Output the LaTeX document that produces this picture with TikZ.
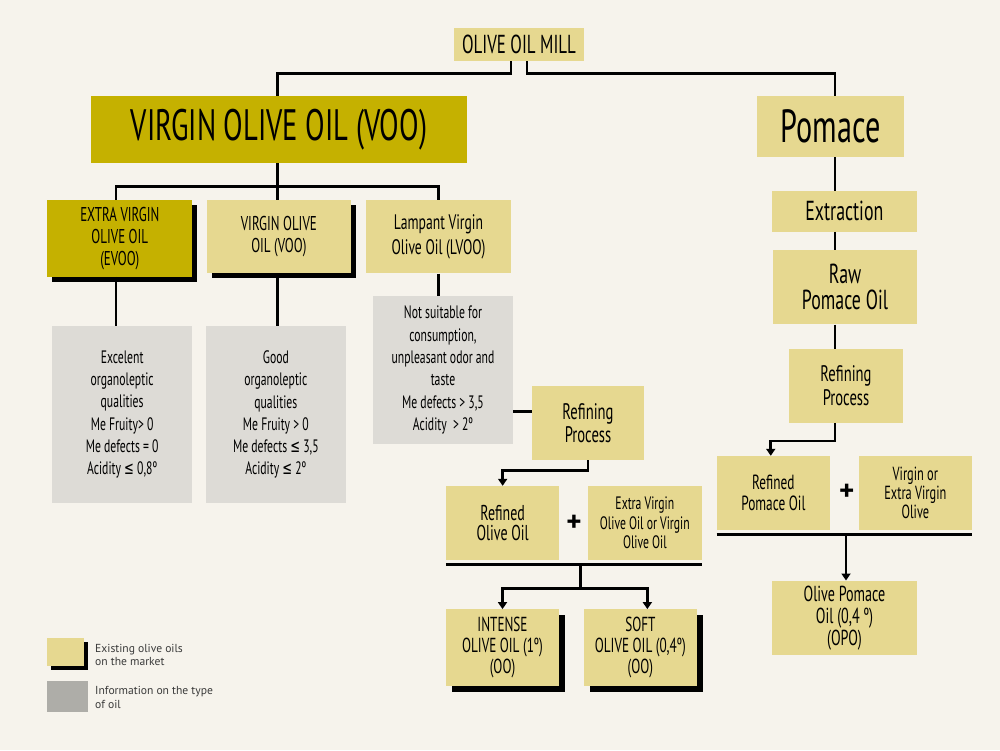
\documentclass[tikz,border=0pt]{standalone}
\usepackage{fontspec}
\setmainfont{PT Sans}[FakeStretch=0.65]
\newfontfamily\legendfont{PT Sans}
\newfontfamily\symf{DejaVu Sans}[FakeStretch=0.65]
\usetikzlibrary{arrows.meta,shadows}
\definecolor{bg}{HTML}{F6F3EC}
\definecolor{khaki}{HTML}{E6D890}
\definecolor{olivey}{HTML}{C5B100}
\definecolor{infogray}{HTML}{DDDBD6}
\definecolor{leggray}{HTML}{AEADA8}
\definecolor{legtext}{HTML}{3A3A3A}
\newcommand{\fs}[2]{\fontsize{#1}{#2}\selectfont}
\newcommand{\leqs}{{\symf ≤}}
\begin{document}
\begin{tikzpicture}[x=1pt,y=-1pt,
  base/.style={inner sep=0pt, align=center, text=black},
  ybox/.style={base, fill=khaki},
  obox/.style={base, fill=olivey},
  gbox/.style={base, fill=infogray},
  shad/.style={drop shadow={shadow xshift=#1, shadow yshift=-#1, fill=black, opacity=1}},
  shad/.default=5pt,
  conn/.style={draw=black, line width=2.6pt},
  arr/.style={conn, -{Triangle[length=7pt,width=9pt]}},
  plussign/.style={inner sep=0pt, font=\legendfont\bfseries\fs{29}{29}},
  legtxt/.style={inner sep=0pt, align=left, anchor=west, text=legtext, font=\legendfont\fs{11.6}{13.3}}]
\fill[bg] (0,0) rectangle (1000,750);
\useasboundingbox (0,0) rectangle (1000,750);

% top
\node[ybox, minimum width=130pt, minimum height=33pt, font=\fs{26}{28}] (mill) at (519,44.5) {OLIVE OIL MILL};
\node[obox, minimum width=376pt, minimum height=66.5pt, font=\fs{44}{46}] (voo) at (279,129.3) {VIRGIN OLIVE OIL (VOO)};
\node[ybox, minimum width=147.6pt, minimum height=61pt, font=\fs{46.5}{48}] (pomace) at (830.5,126.5) {Pomace};

% second row
\node[obox, shad, minimum width=145pt, minimum height=77pt, font=\fs{20}{22}] (evoo) at (119.8,238.2) {EXTRA VIRGIN\\OLIVE OIL\\(EVOO)};
\node[ybox, shad, minimum width=144.3pt, minimum height=73.6pt, font=\fs{20}{22}] (voosm) at (278.85,236.5) {VIRGIN OLIVE\\OIL (VOO)};
\node[ybox, minimum width=145pt, minimum height=73.6pt, font=\fs{21}{25}] (lvoo) at (438.5,236.5) {Lampant Virgin\\Olive Oil (LVOO)};

% info boxes
\node[gbox, minimum width=139.7pt, minimum height=177.3pt, font=\fs{18}{22.3}] (g1) at (122.15,414.65) {Excelent\\organoleptic\\qualities\\Me Fruity> 0\\Me defects = 0\\Acidity \leqs{} 0,8º};
\node[gbox, minimum width=139.7pt, minimum height=177.3pt, font=\fs{18}{22.3}] (g2) at (275.85,414.65) {Good\\organoleptic\\qualities\\Me Fruity > 0\\Me defects \leqs{} 3,5\\Acidity \leqs{} 2º};
\node[gbox, minimum width=139.4pt, minimum height=148pt, font=\fs{18}{22.3}] (g3) at (443,370) {Not suitable for\\consumption,\\unpleasant odor and\\taste\\Me defects > 3,5\\Acidity~ > 2º};

% middle refining
\node[ybox, minimum width=112.6pt, minimum height=74pt, font=\fs{22.5}{23.3}] (rp1) at (588,423) {Refining\\Process};
\node[ybox, minimum width=113.3pt, minimum height=74pt, font=\fs{21.5}{20.7}] (rfo) at (502.65,523) {Refined\\Olive Oil};
\node[plussign] (plus1) at (574,523) {+};
\node[ybox, minimum width=113.7pt, minimum height=74pt, font=\fs{18}{19.3}] (evx) at (644.85,523) {Extra Virgin\\Olive Oil or Virgin\\Olive Oil};
\node[ybox, shad=6pt, minimum width=113pt, minimum height=76.7pt, font=\fs{20.3}{21.3}] (intense) at (502.5,647.65) {INTENSE\\OLIVE OIL (1º)\\(OO)};
\node[ybox, shad=6pt, minimum width=112.7pt, minimum height=76.7pt, font=\fs{20.3}{21.3}] (soft) at (640.35,647.65) {SOFT\\OLIVE OIL (0,4º)\\(OO)};

% right column
\node[ybox, minimum width=144.7pt, minimum height=41pt, font=\fs{27.5}{29}] (extraction) at (844.35,211.2) {Extraction};
\node[ybox, minimum width=144.6pt, minimum height=74.3pt, font=\fs{27.5}{25.7}] (raw) at (845,287.15) {Raw\\Pomace Oil};
\node[ybox, minimum width=113.4pt, minimum height=74pt, font=\fs{22.5}{23.3}] (rp2) at (846,385.7) {Refining\\Process};
\node[ybox, minimum width=113.3pt, minimum height=74pt, font=\fs{20.5}{20.7}] (rpo) at (773.35,493) {Refined\\Pomace Oil};
\node[plussign] (plus2) at (846.7,492.7) {+};
\node[ybox, minimum width=112.7pt, minimum height=74pt, font=\fs{19}{19}] (vev) at (915.35,493) {Virgin or\\Extra Virgin\\Olive};
\node[ybox, minimum width=144.4pt, minimum height=74.3pt, font=\fs{21.7}{22}] (opo) at (844.5,617.85) {Olive Pomace\\Oil (0,4 º)\\(OPO)};

% legend
\node[ybox, shad=4pt, minimum width=36.7pt, minimum height=27.4pt] (legy) at (65.65,652) {};
\node[base, fill=leggray, minimum width=40.4pt, minimum height=31pt] (legg) at (67.5,696.2) {};
\node[legtxt] (legyt) at (95,655) {Existing olive oils\\on the market};
\node[legtxt] (leggt) at (95,697.5) {Information on the type\\of oil};

% helper coordinates
\coordinate (px) at (835,0);
\coordinate (j1) at (277.6,186.7);
\coordinate (j2) at (580.7,564);
\coordinate (j3) at (580.7,588.3);
\coordinate (j4) at (846,534.3);

% connectors
\draw[conn] ([xshift=-8pt]mill.south) -- ++(0,12.3) -| ([xshift=-1.4pt]voo.north);
\draw[conn] ([xshift=8pt]mill.south) -- ++(0,12.3) -| (pomace.north -| px);
\draw[conn] ([xshift=-1.4pt]voo.south) -- (j1);
\draw[conn] ([xshift=-3.8pt]evoo.north) |- (j1) -| (lvoo.north);
\draw[conn] (j1) -- (j1 |- voosm.north);
\draw[conn] ([xshift=-3.8pt]evoo.south) -- ([xshift=-3.8pt]evoo.south |- g1.north);
\draw[conn] (j1 |- voosm.south) -- (j1 |- g2.north);
\draw[conn] (lvoo.south) -- (lvoo.south |- g3.north);
\draw[conn] ([yshift=11.3pt]rp1.west) -- ([yshift=11.3pt]rp1.west -| g3.east);
\draw[arr] (rp1.south) -- ++(0,10) -| (rfo.north);
\draw[conn] ([yshift=-4pt]rfo.south west) -- ([yshift=-4pt]evx.south east);
\draw[conn] (j2) -- (j3);
\draw[arr] (j3) -| (intense.north);
\draw[arr] (j3) -| ([xshift=7pt]soft.north);
\draw[conn] (pomace.south -| px) -- (extraction.north -| px);
\draw[conn] (extraction.south -| px) -- (raw.north -| px);
\draw[conn] (raw.south -| px) -- (rp2.north -| px);
\draw[arr] (rp2.south -| px) -- ++(0,18) -| ([xshift=-2.6pt]rpo.north);
\draw[conn] ([yshift=-4.3pt]rpo.south west) -- ([yshift=-4.3pt]vev.south east);
\draw[arr] (j4) -- (j4 |- opo.north);
\end{tikzpicture}
\end{document}
